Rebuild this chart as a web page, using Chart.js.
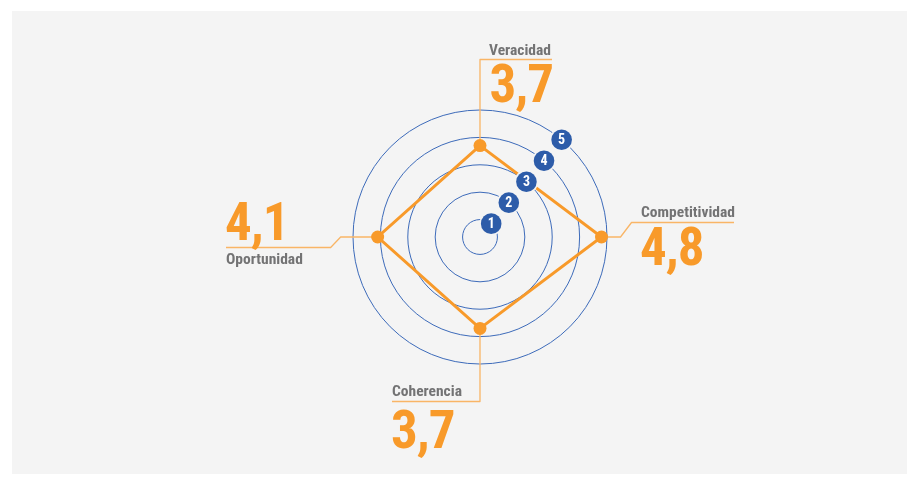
<!DOCTYPE html>
<html>
<head>
<meta charset="utf-8">
<script src="https://cdn.jsdelivr.net/npm/chart.js@4/dist/chart.umd.min.js"></script>
<style>
  html, body { margin: 0; padding: 0; background: #ffffff; }
  #wrap { position: relative; width: 919px; height: 483px; }
</style>
</head>
<body>
<div id="wrap"><canvas id="radar" width="919" height="483"></canvas></div>
<script>
// Dimension names (clockwise from the top) and their scores
const categories = ['Veracidad', 'Competitividad', 'Coherencia', 'Oportunidad'];
const scores = [3.7, 4.8, 3.7, 4.1];
// Ring values shown in the numbered badges
const ringTicks = [1, 2, 3, 4, 5];

const ORANGE = '#f89a2a';
const LEADER = '#f9b566';
const RING = '#3d6bba';
const BADGE = '#2d5ca9';
const GREY_TEXT = '#737374';
const NARROW = '"Liberation Sans Narrow", "Roboto Condensed", "DejaVu Sans Condensed", sans-serif';

const fmt = v => v.toFixed(1).replace('.', ',');

// Grey card behind the chart
const cardPlugin = {
  id: 'card',
  beforeDraw(chart) {
    const ctx = chart.ctx;
    ctx.save();
    ctx.fillStyle = '#f4f4f4';
    ctx.fillRect(12, 11, 895, 463);
    ctx.restore();
  }
};

// Numbered badges sitting on each ring, up and to the right of the centre
const badgePlugin = {
  id: 'badges',
  afterDatasetsDraw(chart) {
    const r = chart.scales.r;
    const ctx = chart.ctx;
    const ang = -50 * Math.PI / 180;
    ctx.save();
    ringTicks.forEach(v => {
      const d = r.getDistanceFromCenterForValue(v);
      const x = r.xCenter + d * Math.cos(ang);
      const y = r.yCenter + d * Math.sin(ang);
      ctx.beginPath();
      ctx.arc(x, y, 11.8, 0, Math.PI * 2);
      ctx.fillStyle = '#f4f4f4';
      ctx.fill();
      ctx.beginPath();
      ctx.arc(x, y, 10.3, 0, Math.PI * 2);
      ctx.fillStyle = BADGE;
      ctx.fill();
      ctx.fillStyle = '#ffffff';
      ctx.font = 'bold 14px ' + NARROW;
      ctx.textAlign = 'center';
      ctx.textBaseline = 'middle';
      ctx.fillText(String(v), x, y + 1);
    });
    ctx.restore();
  }
};

// Leader lines, dimension names and big score figures
const calloutPlugin = {
  id: 'callouts',
  beforeDatasetsDraw(chart) {
    const r = chart.scales.r;
    const ctx = chart.ctx;
    const p = categories.map((c, i) => r.getPointPositionForValue(i, scores[i]));
    ctx.save();
    ctx.strokeStyle = LEADER;
    ctx.lineWidth = 1.3;
    ctx.lineJoin = 'round';

    // Veracidad: straight up, then right
    const v = p[0];
    ctx.beginPath();
    ctx.moveTo(v.x, v.y);
    ctx.lineTo(v.x, 59.5);
    ctx.lineTo(552, 59.5);
    ctx.stroke();

    // Competitividad: right, kink up, then right
    const c = p[1];
    ctx.beginPath();
    ctx.moveTo(c.x, c.y);
    ctx.lineTo(c.x + 19, c.y);
    ctx.lineTo(c.x + 30, 222.5);
    ctx.lineTo(734, 222.5);
    ctx.stroke();

    // Coherencia: straight down, then left
    const h = p[2];
    ctx.beginPath();
    ctx.moveTo(h.x, h.y);
    ctx.lineTo(h.x, 401.5);
    ctx.lineTo(392, 401.5);
    ctx.stroke();

    // Oportunidad: left, kink down, then left
    const o = p[3];
    ctx.beginPath();
    ctx.moveTo(o.x, o.y);
    ctx.lineTo(o.x - 37, o.y);
    ctx.lineTo(o.x - 47, 247.5);
    ctx.lineTo(226, 247.5);
    ctx.stroke();
    ctx.restore();
  },
  afterDraw(chart) {
    const ctx = chart.ctx;
    ctx.save();
    const label = (t, x, y, align) => {
      ctx.font = 'bold 15.5px ' + NARROW;
      ctx.letterSpacing = '0px';
      ctx.fillStyle = GREY_TEXT;
      ctx.textAlign = align;
      ctx.textBaseline = 'alphabetic';
      ctx.fillText(t, x, y);
    };
    const big = (t, x, y, align) => {
      ctx.font = 'bold 53px ' + NARROW;
      ctx.letterSpacing = '-1px';
      ctx.fillStyle = ORANGE;
      ctx.textAlign = align;
      ctx.textBaseline = 'alphabetic';
      ctx.fillText(t, x, y);
    };
    label(categories[0], 551, 55, 'right');
    big(fmt(scores[0]), 553, 102, 'right');

    label(categories[1], 641, 217, 'left');
    big(fmt(scores[1]), 640, 265, 'left');

    label(categories[2], 392, 396, 'left');
    big(fmt(scores[2]), 391, 448, 'left');

    big(fmt(scores[3]), 225, 240, 'left');
    label(categories[3], 226, 264, 'left');
    ctx.restore();
  }
};

new Chart(document.getElementById('radar'), {
  type: 'radar',
  data: {
    labels: categories,
    datasets: [{
      data: scores,
      borderColor: ORANGE,
      borderWidth: 3,
      fill: false,
      pointRadius: 6.5,
      pointBackgroundColor: ORANGE,
      pointBorderWidth: 0,
      pointHoverRadius: 6.5
    }]
  },
  options: {
    responsive: false,
    animation: false,
    events: [],
    layout: { padding: { left: 353, right: 312, top: 110, bottom: 119 } },
    plugins: { legend: { display: false }, tooltip: { enabled: false } },
    scales: {
      r: {
        min: 0.364,
        max: 5,
        beginAtZero: false,
        angleLines: { display: false },
        grid: { circular: true, color: RING, lineWidth: 1 },
        pointLabels: { display: false },
        ticks: { display: false, stepSize: 1 },
        afterBuildTicks(scale) {
          scale.ticks = [scale.min].concat(ringTicks).map(v => ({ value: v }));
        }
      }
    }
  },
  plugins: [cardPlugin, calloutPlugin, badgePlugin]
});
</script>
</body>
</html>
